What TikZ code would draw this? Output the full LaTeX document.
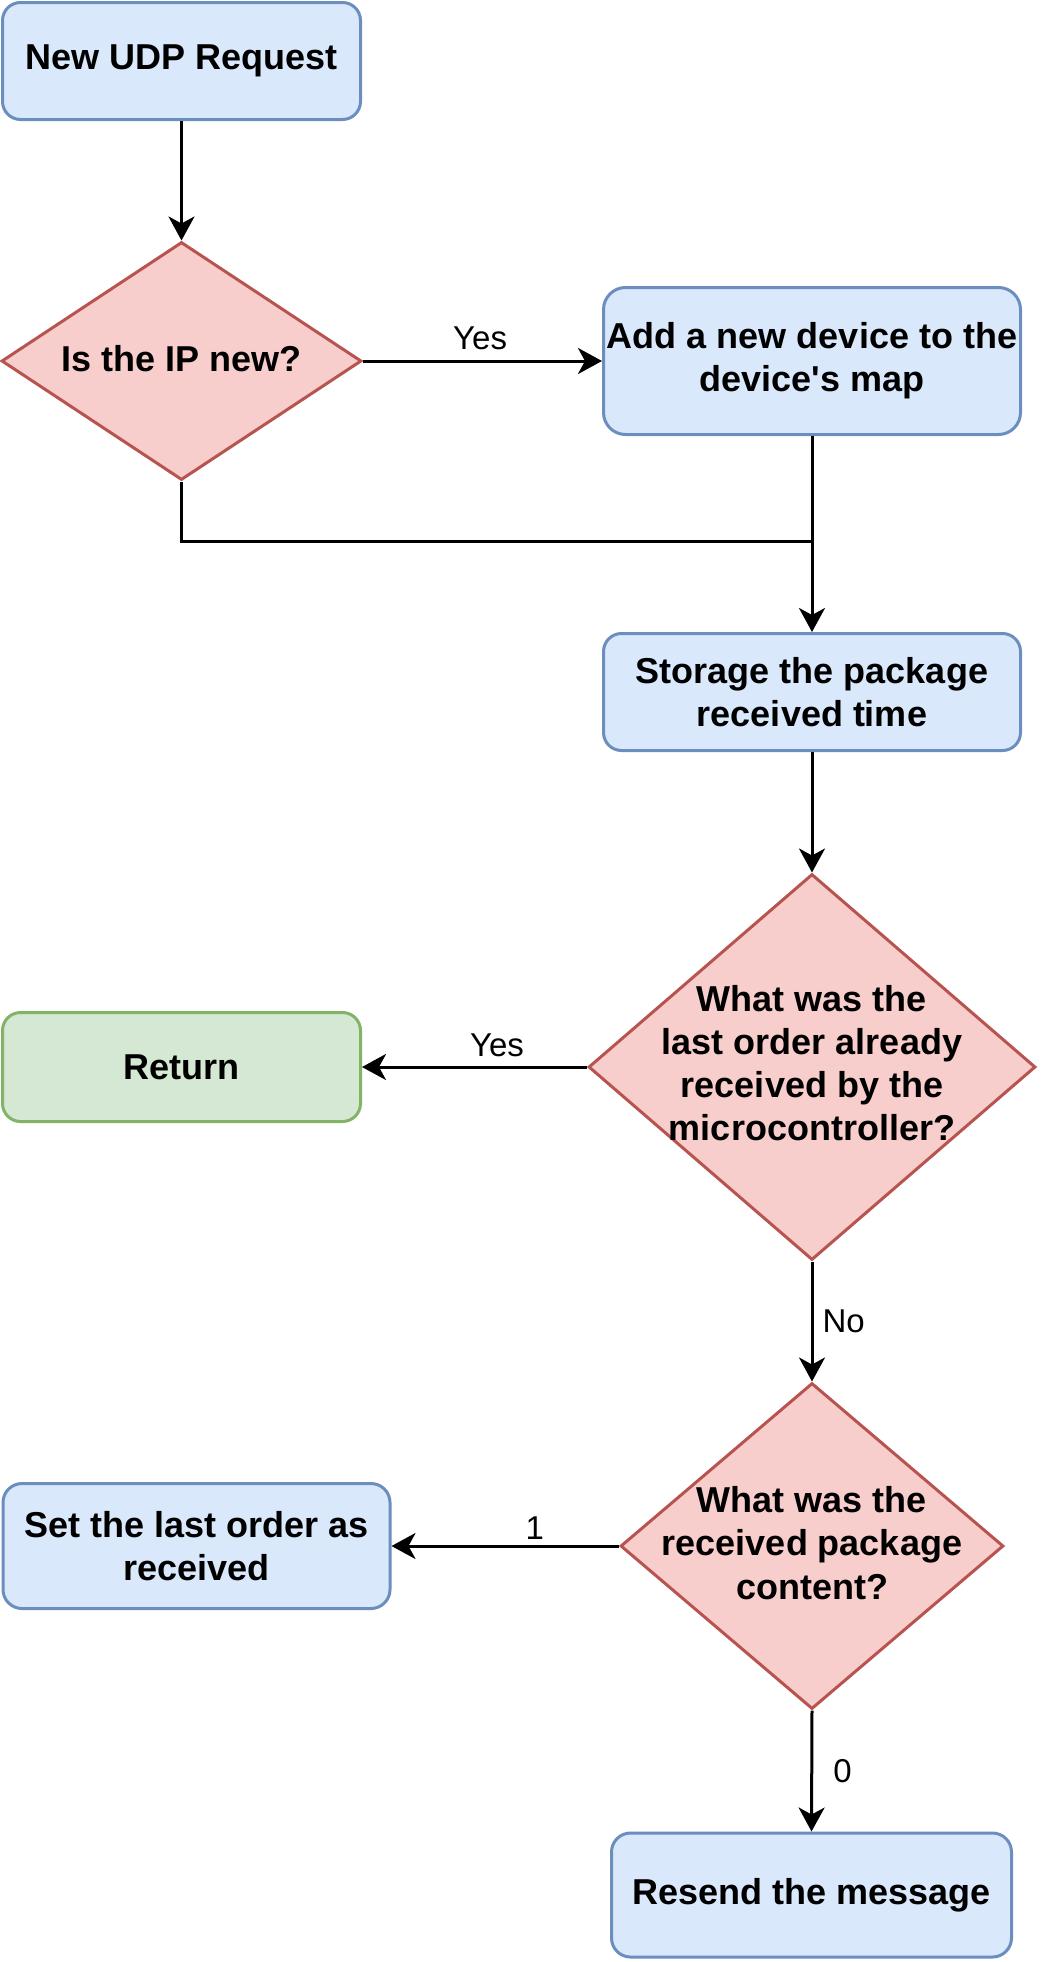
\documentclass[tikz,border=0pt]{standalone}
\usepackage{fontspec}
\setmainfont{Liberation Sans}[Ligatures=TeXOff]
\usetikzlibrary{shapes.geometric,arrows.meta}
\definecolor{bluefill}{HTML}{DAE8FC}
\definecolor{bluedraw}{HTML}{6C8EBF}
\definecolor{redfill}{HTML}{F8CECC}
\definecolor{reddraw}{HTML}{B85450}
\definecolor{greenfill}{HTML}{D5E8D4}
\definecolor{greendraw}{HTML}{82B366}
\tikzset{
  boxtext/.style={font=\bfseries\fontsize{36}{43.2}\selectfont, align=center},
  bluebox/.style={rectangle, rounded corners=18pt, fill=bluefill, draw=bluedraw, line width=3pt, inner sep=0pt, boxtext},
  greenbox/.style={rectangle, rounded corners=18pt, fill=greenfill, draw=greendraw, line width=3pt, inner sep=0pt, boxtext},
  decision/.style={diamond, fill=redfill, draw=reddraw, line width=3pt, inner sep=0pt, aspect=1},
  lbl/.style={font=\fontsize{33}{40}\selectfont, inner sep=0pt},
  conn/.style={line width=3pt, draw=black},
  arr/.style={conn, -{Stealth[length=24pt, width=26pt, inset=7pt]}}
}
\begin{document}
\begin{tikzpicture}[x=1pt,y=-1pt]
\useasboundingbox (0,0) rectangle (1041,1962);

\node[bluebox, minimum width=358pt, minimum height=117pt] (n1) at (181.5,61) {New UDP Request};

\node[decision, minimum width=360pt, minimum height=238pt] (d1) at (181.5,361) {};
\node[boxtext] (d1t) at (181.5,359) {Is the IP new?};

\node[bluebox, rounded corners=22pt, minimum width=417pt, minimum height=147pt] (n2) at (812,361) {Add a new device to the\\device's map};

\node[bluebox, minimum width=417pt, minimum height=117pt] (n3) at (812,692) {Storage the package\\received time};

\node[decision, minimum width=447pt, minimum height=386pt] (d2) at (812,1067) {};
\node[boxtext] (d2t) at (812,1063) {What was the\\last order already\\received by the\\microcontroller?};

\node[greenbox, minimum width=358pt, minimum height=109pt] (n4) at (181.5,1067) {Return};

\node[decision, minimum width=383pt, minimum height=326pt] (d3) at (812,1546) {};
\node[boxtext] (d3t) at (812,1543) {What was the\\received package\\content?};

\node[bluebox, rounded corners=19pt, minimum width=387pt, minimum height=125pt] (n5) at (196.5,1546) {Set the last order as\\received};

\node[bluebox, rounded corners=19pt, minimum width=400pt, minimum height=124pt] (n6) at (811.5,1895) {Resend the message};

\coordinate (j) at (812,541);

\draw[arr] (n1) -- (d1);
\draw[arr] (d1.east) -- node[lbl, pos=0.49, yshift=23pt] (l1) {Yes} (n2.west);
\draw[arr] (n2.south) -- (n3.north);
\draw[conn] (d1.south) |- (j);
\draw[arr] (n3.south) -- (d2.north);
\draw[arr] (d2.west) -- node[lbl, pos=0.40, yshift=22pt] (l2) {Yes} (n4.east);
\draw[arr] (d2.south) -- node[lbl, anchor=west, xshift=9pt] (l3) {No} (d3.north);
\draw[arr] (d3.west) -- node[lbl, pos=0.37, yshift=18pt] (l4) {1} (n5.east);
\draw[arr] (d3.south) -- node[lbl, anchor=west, xshift=20pt] (l5) {0} (n6.north);
\end{tikzpicture}
\end{document}
